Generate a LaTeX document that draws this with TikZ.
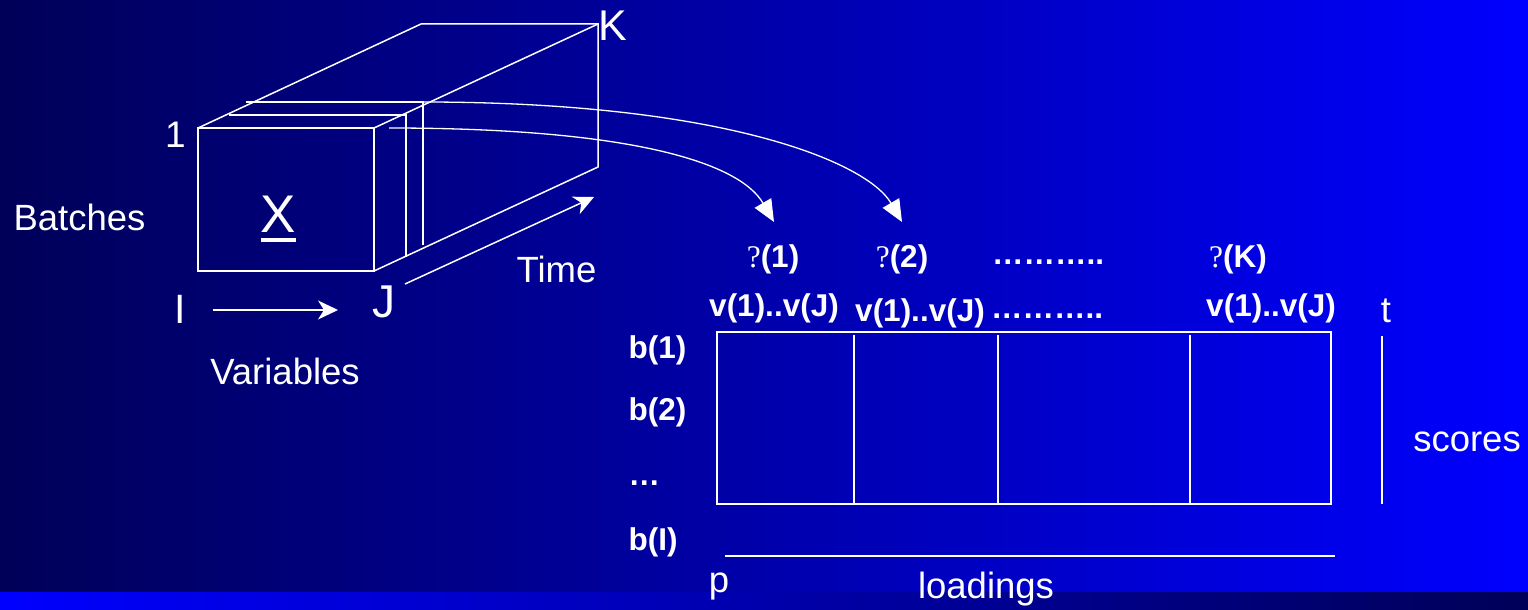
\documentclass[tikz,border=0pt]{standalone}
\usepackage{fontspec}
\setmainfont{Liberation Sans}
\newfontfamily\qfont{Liberation Serif}
\usetikzlibrary{arrows.meta, positioning, calc}
\definecolor{bgdark}{RGB}{0,0,88}
\definecolor{bgblue}{RGB}{0,0,255}
\newcommand{\setfs}[1]{\fontsize{#1}{#1}\selectfont}

\begin{document}
\begin{tikzpicture}[x=1pt, y=-1pt,
        lbl/.style={text=white, inner sep=0pt, anchor=base, font=\setfs{36.5}},
        blbl/.style={text=white, inner sep=0pt, anchor=base, font=\setfs{31.5}\bfseries},
        edge/.style={draw=white, line width=1.5pt},
        arr/.style={-{Stealth[length=20pt, width=19pt, inset=6pt]}, white, line width=1.5pt},
        curv/.style={-{Triangle[length=22pt, width=19pt]}, white, line width=1.3pt}
    ]
        % background
        \useasboundingbox (0,0) rectangle (1528,610);
        \shade[left color=bgdark, right color=bgblue] (0,0) rectangle (1528,592);
        \shade[left color=bgblue, right color=bgdark] (0,592) rectangle (1528,610);

        % the data cube
        \coordinate (f1) at (198,128);
        \coordinate (f2) at (374,128);
        \coordinate (f3) at (374,271);
        \coordinate (b1) at (421,24);
        \coordinate (b2) at (598,24);
        \coordinate (b3) at (598,167);
        \draw[edge] (f1) rectangle (f3);
        \draw[edge] (f1) -- (b1) -- (b2) -- (b3) -- (f3);
        \draw[edge] (f2) -- (b2);
        \draw[edge] (229,115) -- (406,115) -- (406,257);
        \coordinate (s2) at (423,102);
        \coordinate (s1) at (389,128);
        \draw[edge] (246,102) -- (s2) -- (423,245);

        \node[lbl, font=\setfs{53}] (X) at (278.5,232) {X};
        \draw[white, line width=3.5pt] ($(X.base west)+(0,8)$) -- ($(X.base east)+(0,8)$);
        \node[lbl, font=\setfs{37}] (one) at (175.5,147) {1};
        \node[lbl, font=\setfs{43}] (K) at (612.5,41) {K};
        \node[lbl] (batches) at (79.5,230) {Batches};
        \node[lbl] (time) at (556.5,282) {Time};
        \node[lbl, font=\setfs{41}] (I) at (180,323) {I};
        \node[lbl, font=\setfs{46}] (J) at (384,317) {J};
        \node[lbl] (vars) at (285,384) {Variables};

        \coordinate (ia) at (213,310);
        \coordinate (ib) at (338,310);
        \coordinate (ta) at (405,284);
        \coordinate (tb) at (594,197);
        \draw[arr] (ia) -- (ib);
        \draw[arr] (ta) -- (tb);

        % unfolded matrix
        \node[blbl] (th1) at (773,267) {{\qfont\mdseries ?}(1)};
        \node[blbl] (th2) at (902,267) {{\qfont\mdseries ?}(2)};
        \node[blbl] (thd) at (1048,264) {………..};
        \node[blbl] (thK) at (1238,267) {{\qfont\mdseries ?}(K)};
        \node[blbl] (v1) at (774,316) {v(1)..v(J)};
        \node[blbl] (v2) at (920,321) {v(1)..v(J)};
        \node[blbl] (vd) at (1047,318) {………..};
        \node[blbl] (vK) at (1271,316) {v(1)..v(J)};

        \draw[curv] (s1) .. controls +(240,0) and +(-35,-60) .. ($(th1.north)+(1,-22)$);
        \draw[curv] (s2) .. controls +(300,0) and +(-35,-60) .. ($(th2.north)+(0,-22)$);

        \draw[edge] (717,332) rectangle (1331,504);
        \foreach \xd in {854,998,1190}
            \draw[edge] (\xd,335) -- (\xd,504);

        \node[blbl, anchor=base west] (bb1) at (628.5,358) {b(1)};
        \node[blbl, anchor=base west] (bb2) at (628.5,420) {b(2)};
        \node[blbl, anchor=base west] (bbd) at (628.5,485) {…};
        \node[blbl, anchor=base west] (bbI) at (628.5,550) {b(I)};

        \node[lbl] (t) at (1386,322) {t};
        \draw[edge] (1382,336) -- (1382,504);
        \node[lbl] (scores) at (1467,451) {scores};

        \draw[edge] (725,556) -- (1335,556);
        \node[lbl] (p) at (719,592) {p};
        \node[lbl] (load) at (986,598) {loadings};
    \end{tikzpicture}
\end{document}
